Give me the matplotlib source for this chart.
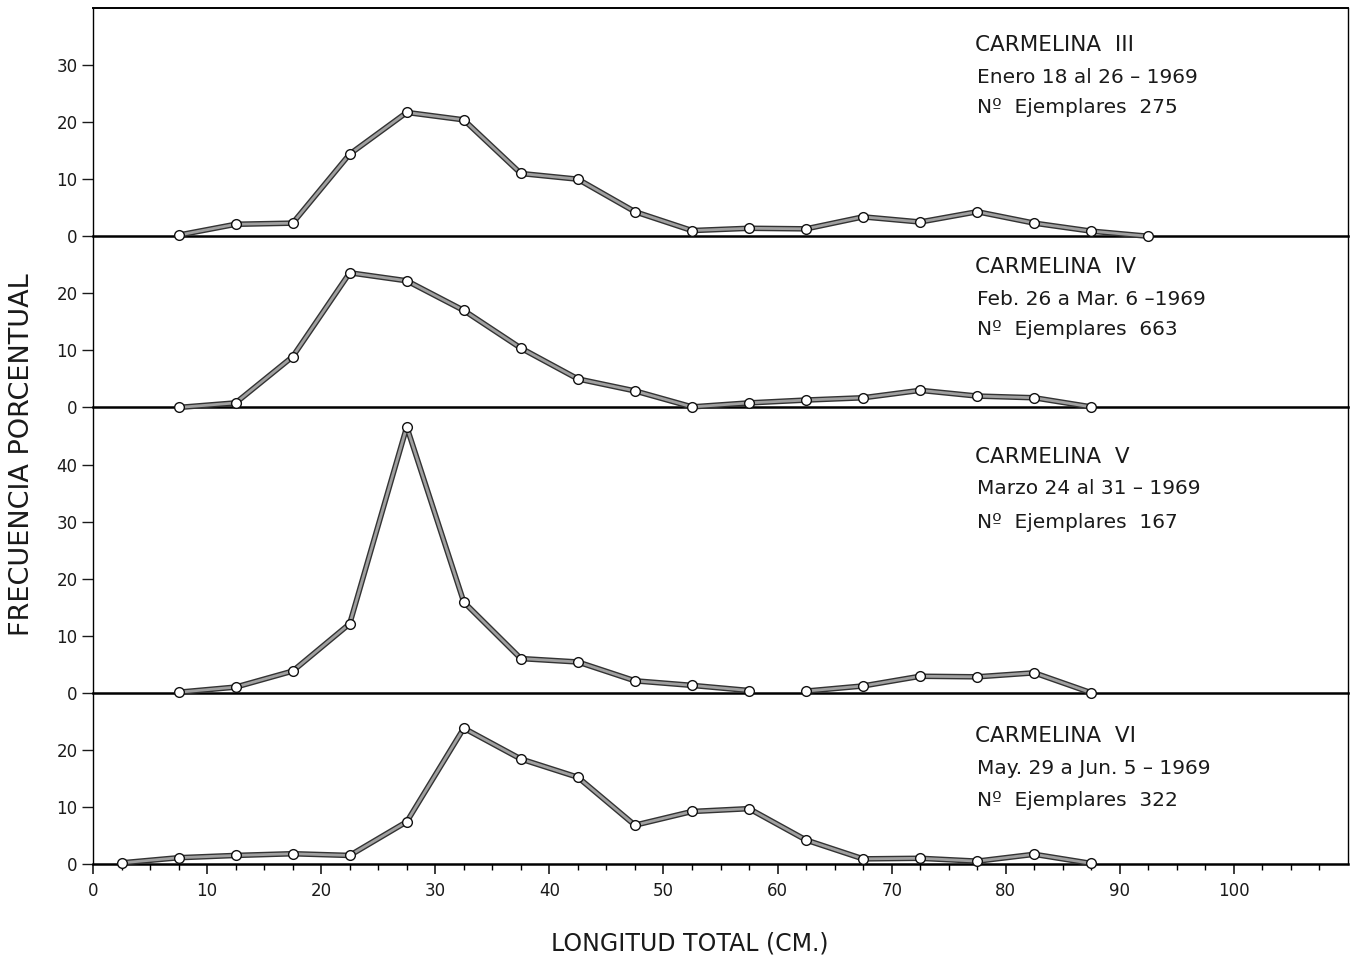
import numpy as np
import matplotlib.pyplot as plt
import matplotlib.patheffects as pe

# === DATA ===
# class midpoints (cm) and percentage frequency per cruise
x_iii = [7.5, 12.5, 17.5, 22.5, 27.5, 32.5, 37.5, 42.5, 47.5, 52.5,
         57.5, 62.5, 67.5, 72.5, 77.5, 82.5, 87.5, 92.5]
y_iii = [0.2, 2.1, 2.3, 14.4, 21.7, 20.4, 11.0, 10.0, 4.3, 1.0,
         1.4, 1.3, 3.4, 2.5, 4.3, 2.3, 0.9, 0.0]

x_iv = [7.5, 12.5, 17.5, 22.5, 27.5, 32.5, 37.5, 42.5, 47.5, 52.5,
        57.5, 62.5, 67.5, 72.5, 77.5, 82.5, 87.5]
y_iv = [0.0, 0.8, 8.9, 23.6, 22.2, 17.0, 10.4, 5.0, 2.9, 0.1,
        0.8, 1.3, 1.7, 3.0, 2.0, 1.7, 0.1]

# Carmelina V: line is interrupted between 57.5 and 62.5
x_v_a = [7.5, 12.5, 17.5, 22.5, 27.5, 32.5, 37.5, 42.5, 47.5, 52.5, 57.5]
y_v_a = [0.1, 1.0, 3.8, 12.1, 46.6, 15.9, 6.0, 5.4, 2.1, 1.3, 0.4]
x_v_b = [62.5, 67.5, 72.5, 77.5, 82.5, 87.5]
y_v_b = [0.3, 1.2, 2.9, 2.8, 3.5, 0.0]

x_vi = [2.5, 7.5, 12.5, 17.5, 22.5, 27.5, 32.5, 37.5, 42.5, 47.5, 52.5,
        57.5, 62.5, 67.5, 72.5, 77.5, 82.5, 87.5]
y_vi = [0.2, 1.1, 1.5, 1.8, 1.5, 7.4, 23.8, 18.4, 15.2, 6.8, 9.2,
        9.7, 4.2, 0.9, 1.0, 0.5, 1.7, 0.1]

titles = ["CARMELINA  III", "CARMELINA  IV", "CARMELINA  V", "CARMELINA  VI"]
dates = ["Enero 18 al 26 – 1969", "Feb. 26 a Mar. 6 –1969",
         "Marzo 24 al 31 – 1969", "May. 29 a Jun. 5 – 1969"]
counts = ["Nº  Ejemplares  275", "Nº  Ejemplares  663",
          "Nº  Ejemplares  167", "Nº  Ejemplares  322"]

series = [[(x_iii, y_iii)], [(x_iv, y_iv)],
          [(x_v_a, y_v_a), (x_v_b, y_v_b)], [(x_vi, y_vi)]]
ymax = [40, 30, 50, 30]
yticks = [[0, 10, 20, 30], [0, 10, 20], [0, 10, 20, 30, 40], [0, 10, 20]]
# label rows (data y) for each panel
label_y = [[33.5, 27.9, 22.5], [24.6, 18.9, 13.6],
           [41.4, 35.8, 29.8], [22.5, 16.8, 11.2]]

# === PLOT ===
plt.rcParams['font.family'] = ['DejaVu Sans']
fig = plt.figure(figsize=(13.5, 9.59), dpi=100)
gs = fig.add_gridspec(4, 1, height_ratios=ymax, hspace=0,
                      left=93 / 1350, right=1348 / 1350,
                      top=1 - 8 / 959, bottom=1 - 864 / 959)

line_fx = [pe.Stroke(linewidth=4.0, foreground='#333333'), pe.Normal()]
ink = '#1a1a1a'

for i in range(4):
    ax = fig.add_subplot(gs[i])
    ax.patch.set_visible(False)
    for xs, ys in series[i]:
        # doubled grey line, then hollow markers on top
        ax.plot(xs, ys, color='#a0a0a0', lw=2.0, path_effects=line_fx,
                zorder=3, clip_on=False)
        ax.plot(xs, ys, linestyle='none', marker='o', markersize=7,
                markerfacecolor='white', markeredgecolor='#111111',
                markeredgewidth=1.0, zorder=4, clip_on=False)
    ax.set_xlim(0, 110)
    ax.set_ylim(0, ymax[i])
    ax.set_yticks(yticks[i])
    ax.tick_params(axis='y', direction='out', length=8, width=1,
                   labelsize=12, pad=3, colors=ink)
    ax.spines['bottom'].set_linewidth(1.8)
    ax.spines['left'].set_linewidth(1.0)
    ax.spines['right'].set_linewidth(1.0)
    ax.spines['top'].set_linewidth(1.4)
    if i > 0:
        ax.spines['top'].set_visible(False)
    if i < 3:
        ax.set_xticks([])
    else:
        ax.set_xticks(np.arange(0, 101, 10))
        ax.set_xticks(np.arange(2.5, 110, 2.5), minor=True)
        ax.tick_params(axis='x', which='major', direction='out', length=7,
                       width=1.2, labelsize=12, pad=6, colors=ink)
        ax.tick_params(axis='x', which='minor', direction='out', length=4,
                       width=1.0)
    ax.text(77.3, label_y[i][0], titles[i], fontsize=15.5, va='center',
            ha='left', color=ink)
    ax.text(77.5, label_y[i][1], dates[i], fontsize=14.5, va='center',
            ha='left', color=ink)
    ax.text(77.5, label_y[i][2], counts[i], fontsize=14.5, va='center',
            ha='left', color=ink)

fig.text(22 / 1350, 1 - 455 / 959, "FRECUENCIA PORCENTUAL", rotation=90,
         fontsize=19.5, va='center', ha='center', color=ink)
fig.text(690 / 1350, 1 - 943 / 959, "LONGITUD TOTAL (CM.)",
         fontsize=17, va='center', ha='center', color=ink)

plt.savefig("out.png", dpi=100)
